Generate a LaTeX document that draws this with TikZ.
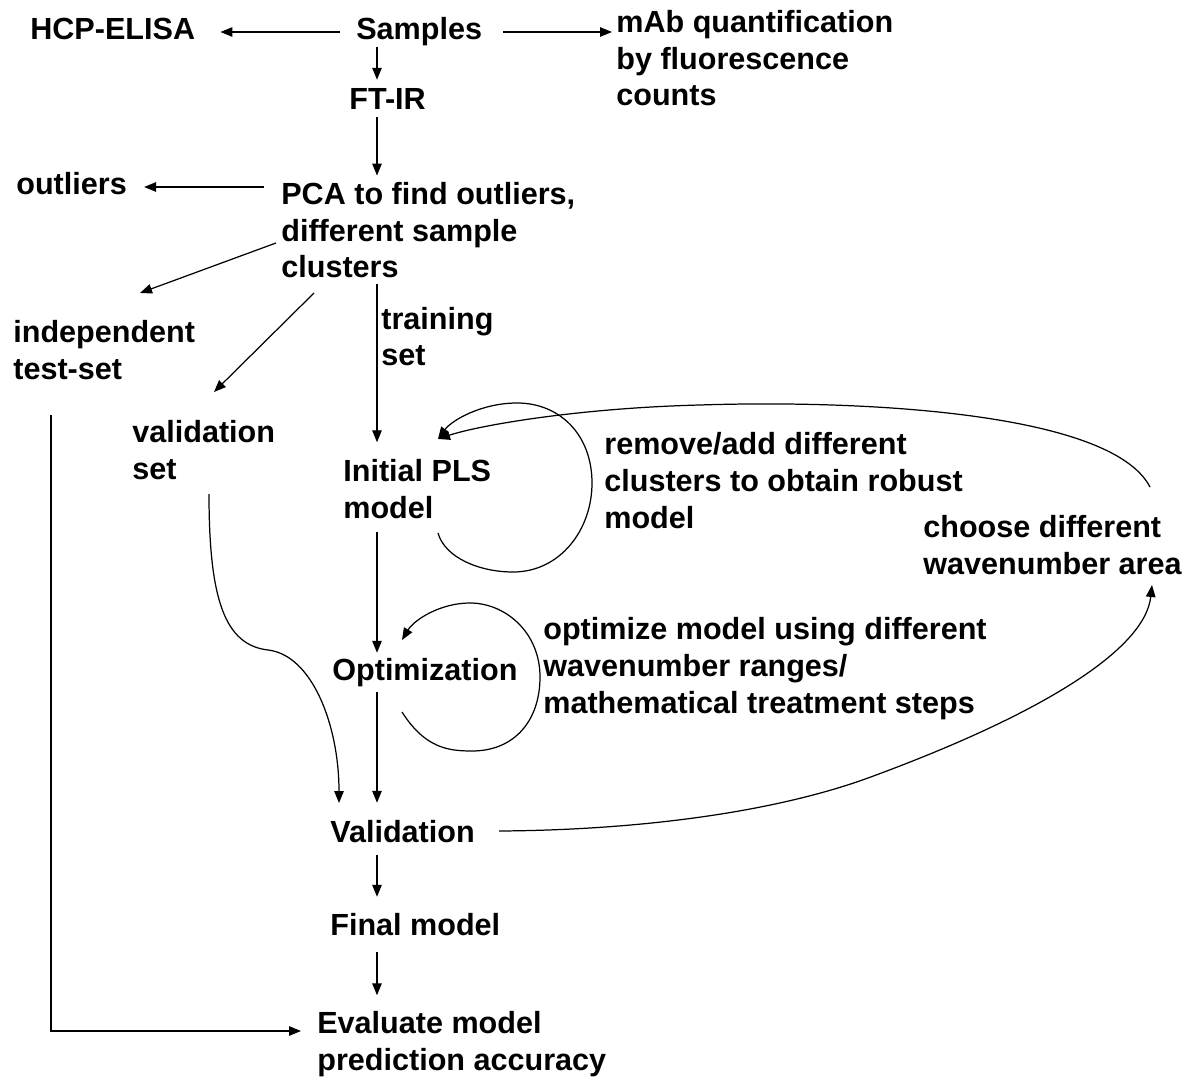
\documentclass[tikz,border=0pt]{standalone}
\usepackage{fontspec}
\setmainfont{Liberation Sans}
\usetikzlibrary{arrows.meta}

\begin{document}
  \begin{tikzpicture}[x=0.02cm, y=-0.02cm,
      every node/.style={font=\fontsize{17.4}{20.9}\selectfont\bfseries, inner sep=0pt},
      lbl/.style={anchor=base west, text height=0.448cm, text depth=0.128cm},
      txt/.style={anchor=base west, align=left},
      arr/.style={-{Triangle[length=0.24cm,width=0.19cm]}, line width=0.7pt}]
    \useasboundingbox (0,0) rectangle (1189,1077);
    \coordinate (spine) at (377,0);

    \node[lbl] (hcp) at (30,40) {HCP-ELISA};
    \node[lbl] (samples) at (356,40) {Samples};
    \node[txt] (mab) at (616,106) {mAb quantification\\by fluorescence\\counts};
    \node[lbl] (ftir) at (349,110) {FT-IR};
    \node[lbl] (outliers) at (16,195) {outliers};
    \node[txt] (pca) at (281,278) {PCA to find outliers,\\different sample\\clusters};
    \node[txt] (indep) at (13,379) {independent\\test-set};
    \node[txt] (training) at (381,366) {training\\set};
    \node[txt] (valset) at (132,479) {validation\\set};
    \node[txt] (initial) at (343,518) {Initial PLS\\model};
    \node[txt] (removeadd) at (604,528) {remove/add different\\clusters to obtain robust\\model};
    \node[txt] (choose) at (923,574) {choose different\\wavenumber area};
    \node[txt] (optimize) at (543,713) {optimize model using different\\wavenumber ranges/\\mathematical treatment steps};
    \node[lbl] (optim) at (332,680) {Optimization};
    \node[lbl] (validation) at (330,842) {Validation};
    \node[lbl] (final) at (330,935) {Final model};
    \node[txt] (evaluate) at (317,1070) {Evaluate model\\prediction accuracy};

    \draw[arr, shorten >=0.5cm] ([shift={(-16,0)}]samples.west) -- (samples.west -| hcp.east);
    \draw[arr, shorten >=0.08cm] ([shift={(21,0)}]samples.east) -- (samples.east -| mab.west);
    \draw[arr, shorten >=0.15cm] (samples.south -| spine) -- (ftir.north -| spine);
    \draw[arr, shorten >=0.13cm] (ftir.south -| spine) -- (pca.north -| spine);
    \draw[arr, shorten <=0.34cm, shorten >=0.34cm] (pca.west |- outliers.east) -- (outliers.east);
    \draw[arr] ([shift={(-5,-35)}]pca.base west) -- ([shift={(127,-86)}]indep.base west);
    \draw[arr] ([shift={(33,15)}]pca.base west) -- ([shift={(82,-87)}]valset.base west);
    \draw[arr, shorten <=0.1cm, shorten >=0.33cm] (pca.south -| spine) -- (initial.north -| spine);
    \draw[arr, shorten <=0.26cm, shorten >=0.09cm] (initial.south -| spine) -- (optim.north -| spine);
    \draw[arr, shorten <=0.11cm, shorten >=0.33cm] (optim.south -| spine) -- (validation.north -| spine);
    \draw[arr, shorten <=0.13cm, shorten >=0.31cm] (validation.south -| spine) -- (final.north -| spine);
    \draw[arr, shorten <=0.21cm, shorten >=0.31cm] (final.south -| spine) -- (evaluate.north -| spine);
    \draw[arr] ([shift={(38,36)}]indep.base west) |- ([shift={(-16,-39)}]evaluate.base west);

    \draw[arr] ([shift={(77,15)}]valset.base west) .. controls (209,600) and (225,645) .. (268,650)
      .. controls (312,655) and (339,725) .. ([shift={(9,-39)}]validation.base west);
    \draw[arr] ([shift={(95,15)}]initial.base west) .. controls (445,558) and (480,572) .. (513,572)
      .. controls (560,572) and (592,530) .. (592,483) .. controls (592,435) and (560,403) .. (517,403)
      .. controls (482,403) and (452,420) .. ([shift={(95,-79)}]initial.base west);
    \draw[arr] ([shift={(70,32)}]optim.base west) .. controls (425,748) and (448,751) .. (472,751)
      .. controls (515,751) and (540,720) .. (540,677) .. controls (540,632) and (505,603) .. (470,603)
      .. controls (440,603) and (414,620) .. ([shift={(70,-40)}]optim.base west);
    \draw[arr] ([shift={(227,-87)}]choose.base west) .. controls (1110,410) and (850,400) .. (700,405)
      .. controls (580,408) and (480,425) .. ([shift={(95,-79)}]initial.base west);
    \draw[arr] ([shift={(24,-3)}]validation.east) .. controls (650,830) and (780,810) .. (868,778)
      .. controls (1040,715) and (1145,650) .. ([shift={(229,11)}]choose.base west);
  \end{tikzpicture}
\end{document}
